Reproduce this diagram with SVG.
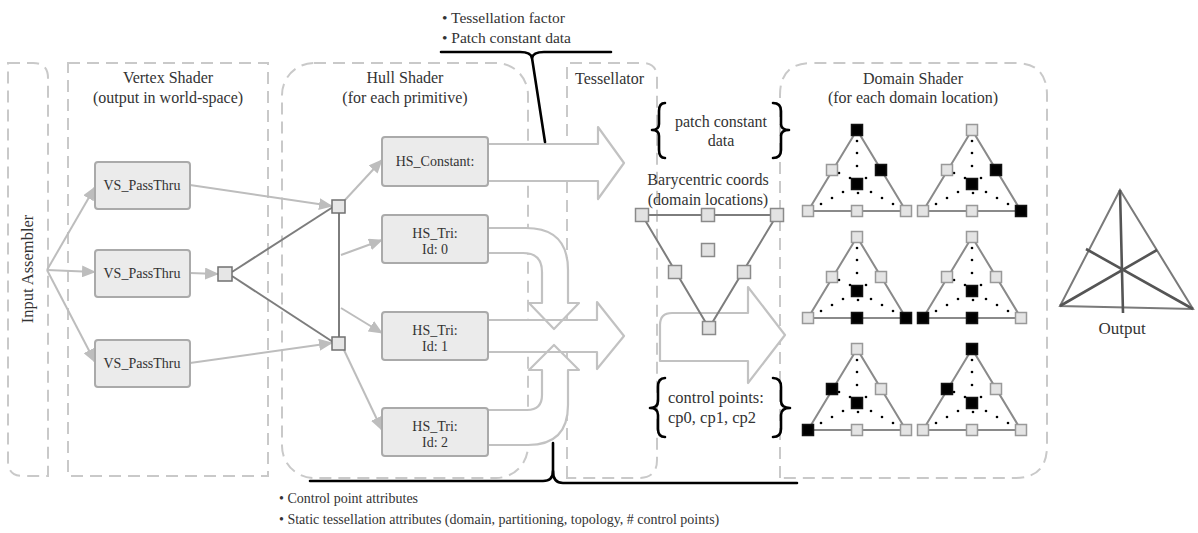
<svg xmlns="http://www.w3.org/2000/svg" width="1198" height="533" viewBox="0 0 1198 533">
<defs>
<style>
text{font-family:"Liberation Serif","DejaVu Serif",serif;fill:#333}
.t16{font-size:16px;text-anchor:middle}
.t14{font-size:14px;text-anchor:middle}
.tl{font-size:14px}
.panel{fill:none;stroke:#c9c9c9;stroke-width:2;stroke-dasharray:12 7}
.box{fill:#ebebeb;stroke:#aaa;stroke-width:2}
.lc{fill:none;stroke:#bdbdbd;stroke-width:2}
.dc{fill:none;stroke:#7d7d7d;stroke-width:2}
.sq{fill:#e6e6e6;stroke:#707070;stroke-width:1.5}
.bf{fill:#fff;stroke:none}
.bs{fill:none;stroke:#c2c2c2;stroke-width:2.2;stroke-linejoin:round}
.brace{fill:none;stroke:#000;stroke-width:2.6;stroke-linecap:round;stroke-linejoin:round}
.tri{fill:none;stroke:#8a8a8a;stroke-width:2}
.g{fill:#e4e4e4;stroke:#999;stroke-width:1.5}
.k{fill:#000;stroke:#111;stroke-width:1.5}
.bsq{fill:#e2e2e2;stroke:#8a8a8a;stroke-width:1.5}
</style>
<marker id="ah" viewBox="0 0 14 12" markerWidth="14" markerHeight="12" refX="13" refY="6" orient="auto" markerUnits="userSpaceOnUse"><path d="M0,0 L14,6 L0,12 Z" fill="#bdbdbd"/></marker>
<rect id="sq" x="-5.5" y="-5.5" width="11" height="11"/>
<rect id="bq" x="-6.5" y="-6.5" width="13" height="13"/>
<polygon id="triout" points="0,0 -49,81 49,81" class="tri"/>
<g id="tridots" fill="#000">
<circle cx="0" cy="11" r="1.3"/><circle cx="0" cy="23" r="1.3"/><circle cx="0" cy="36" r="1.3"/>
<circle cx="-36" cy="74" r="1.3"/><circle cx="-25" cy="68" r="1.3"/><circle cx="-14" cy="62" r="1.3"/>
<circle cx="36" cy="74" r="1.3"/><circle cx="25" cy="68" r="1.3"/><circle cx="14" cy="62" r="1.3"/>
<circle cx="-7" cy="48" r="1.3"/><circle cx="9" cy="48" r="1.3"/><circle cx="1" cy="63" r="1.3"/>
<circle cx="-18" cy="43" r="1.3"/>
</g>
<path id="a1" d="M488,144 H598 V127 L624,163 L598,199 V181 H488"/>
<path id="a2" d="M488,228 H526 Q568,228 568,270 V303 H579 L554,329 L529,303 H542 V272 Q542,253 523,253 H488"/>
<path id="a3" d="M488,320 H597 V302 L624,336 L597,369 V352 H488"/>
<path id="a4" d="M488,445 H528 Q568,445 568,405 V370 H579 L554,345 L529,370 H542 V395 Q542,410 527,410 H488"/>
<path id="a5" d="M672,313 H748 V287 L785,335 L748,383 V361 H660 V325 Q660,313 672,313 Z"/>
</defs>
<rect width="1198" height="533" fill="#fff"/>

<g id="panels">
<path class="panel" d="M8,63 H33 Q48,63 48,78 V476 H23 Q8,476 8,461 Z"/>
<rect class="panel" x="68" y="63" width="200" height="413"/>
<rect class="panel" x="282" y="63" width="246" height="415" rx="32"/>
<path class="panel" d="M567,478 V63 H642 Q657,63 657,78 V460 Q657,478 639,478 Z"/>
<path class="panel" d="M780,478 V95 Q780,63 812,63 H1015 Q1047,63 1047,95 V446 Q1047,478 1015,478 Z"/>
<text x="28" y="269" font-size="16.5" text-anchor="middle" transform="rotate(-90 28 269)" dy="5">Input Assembler</text>
<text class="t16" x="168" y="83">Vertex Shader</text>
<text class="t16" x="168" y="103">(output in world-space)</text>
<text class="t16" x="405" y="83">Hull Shader</text>
<text class="t16" x="405" y="103">(for each primitive)</text>
<text x="575" y="84" font-size="16">Tessellator</text>
<text class="t16" x="913" y="84">Domain Shader</text>
<text class="t16" x="913" y="103">(for each domain location)</text>
</g>

<g id="connectors">
<path class="lc" d="M47,270 L95,187" marker-end="url(#ah)"/>
<path class="lc" d="M47,270 L95,272" marker-end="url(#ah)"/>
<path class="lc" d="M47,270 L95,362" marker-end="url(#ah)"/>
<path class="lc" d="M190,273 L218,274" marker-end="url(#ah)"/>
<path class="lc" d="M190,185 L332,206" marker-end="url(#ah)"/>
<path class="lc" d="M190,363 L332,343" marker-end="url(#ah)"/>
<path class="dc" d="M232,272 L333,207"/>
<path class="dc" d="M232,276 L333,342"/>
<path class="dc" d="M339,213 V337"/>
<path class="lc" d="M345,200 L382,160" marker-end="url(#ah)"/>
<path class="lc" d="M341,255 L382,240" marker-end="url(#ah)"/>
<path class="lc" d="M341,308 L382,333" marker-end="url(#ah)"/>
<path class="lc" d="M344,350 L382,430" marker-end="url(#ah)"/>
<use href="#a1" class="bf"/><use href="#a2" class="bf"/><use href="#a4" class="bf"/><use href="#a3" class="bf"/><use href="#a5" class="bf"/>
<use href="#a1" class="bs"/><use href="#a2" class="bs"/><use href="#a4" class="bs"/><use href="#a3" class="bs"/><use href="#a5" class="bs"/>
</g>

<g id="vs1"><rect class="box" x="95" y="162" width="95" height="47" rx="3"/><text class="t14" x="142" y="190">VS_PassThru</text></g>
<g id="vs2"><rect class="box" x="95" y="250" width="95" height="47" rx="3"/><text class="t14" x="142" y="278">VS_PassThru</text></g>
<g id="vs3"><rect class="box" x="95" y="340" width="95" height="47" rx="3"/><text class="t14" x="142" y="368">VS_PassThru</text></g>
<g id="vs-join"><rect class="sq" x="218" y="267" width="14" height="14"/></g>
<g id="hs-join1"><rect class="sq" x="332" y="200" width="13" height="13"/></g>
<g id="hs-join2"><rect class="sq" x="332" y="337" width="13" height="13"/></g>

<g id="hs-constant"><rect class="box" x="382" y="137" width="106" height="49" rx="3"/><text class="t14" x="435" y="166">HS_Constant:</text></g>
<g id="hs-tri0"><rect class="box" x="382" y="215" width="106" height="48" rx="3"/><text class="t14" x="435" y="238">HS_Tri:</text><text class="t14" x="435" y="254">Id: 0</text></g>
<g id="hs-tri1"><rect class="box" x="382" y="312" width="106" height="48" rx="3"/><text class="t14" x="435" y="335">HS_Tri:</text><text class="t14" x="435" y="351">Id: 1</text></g>
<g id="hs-tri2"><rect class="box" x="382" y="408" width="106" height="48" rx="3"/><text class="t14" x="435" y="431">HS_Tri:</text><text class="t14" x="435" y="447">Id: 2</text></g>

<g id="top-note">
<text x="442" y="23" font-size="15.5">• Tessellation factor</text>
<text x="442" y="43" font-size="15.5">• Patch constant data</text>
<path class="brace" d="M441,52 H520 Q531,52 532,58 L545,142"/>
<path class="brace" d="M532,58 Q533,52 544,52 H611"/>
</g>

<g id="bottom-note">
<path class="brace" d="M310,481 H543 Q553,481 553,471 V443"/>
<path class="brace" d="M553,471 Q553,483 563,483 H797"/>
<text class="tl" x="279" y="503">• Control point attributes</text>
<text class="tl" x="279" y="524">• Static tessellation attributes (domain, partitioning, topology, # control points)</text>
</g>

<g id="tessellator">
<path class="brace" d="M665,103 Q659,103 659,111 V124 Q659,130 652,130 Q659,130 659,136 V150 Q659,158 665,158"/>
<path class="brace" d="M773,103 Q781,103 781,111 V124 Q781,130 789,130 Q781,130 781,136 V150 Q781,158 773,158"/>
<text class="t16" x="721" y="127">patch constant</text>
<text class="t16" x="721" y="146">data</text>
<text class="t16" x="708" y="185">Barycentric coords</text>
<text class="t16" x="708" y="205">(domain locations)</text>
<path class="dc" d="M642,215 H777 L709,328 Z" stroke-width="1.6"/>
<use href="#bq" class="bsq" x="642" y="215"/><use href="#bq" class="bsq" x="708" y="215"/><use href="#bq" class="bsq" x="777" y="215"/>
<use href="#bq" class="bsq" x="675" y="272"/><use href="#bq" class="bsq" x="744" y="272"/>
<use href="#bq" class="bsq" x="709" y="328"/><use href="#bq" class="bsq" x="708" y="250"/>
<path class="brace" d="M665,378 Q658,378 658,387 V401 Q658,408 650,408 Q658,408 658,415 V429 Q658,437 665,437"/>
<path class="brace" d="M773,378 Q781,378 781,387 V401 Q781,408 790,408 Q781,408 781,415 V429 Q781,437 773,437"/>
<text x="668" y="403" font-size="16.5">control points:</text>
<text x="668" y="423" font-size="16.5">cp0, cp1, cp2</text>
</g>

<g id="ds1" transform="translate(857,130)">
<use href="#triout"/><use href="#tridots"/>
<use href="#sq" class="k" x="0" y="0"/><use href="#sq" class="g" x="-25" y="40"/><use href="#sq" class="k" x="24" y="40"/><use href="#sq" class="k" x="0" y="54"/><use href="#sq" class="g" x="-49" y="81"/><use href="#sq" class="g" x="0" y="81"/><use href="#sq" class="g" x="49" y="81"/>
</g>
<g id="ds2" transform="translate(972,130)">
<use href="#triout"/><use href="#tridots"/>
<use href="#sq" class="g" x="0" y="0"/><use href="#sq" class="g" x="-25" y="40"/><use href="#sq" class="k" x="24" y="40"/><use href="#sq" class="k" x="0" y="54"/><use href="#sq" class="g" x="-49" y="81"/><use href="#sq" class="g" x="0" y="81"/><use href="#sq" class="k" x="49" y="81"/>
</g>
<g id="ds3" transform="translate(857,237)">
<use href="#triout"/><use href="#tridots"/>
<use href="#sq" class="g" x="0" y="0"/><use href="#sq" class="g" x="-25" y="40"/><use href="#sq" class="g" x="24" y="40"/><use href="#sq" class="k" x="0" y="54"/><use href="#sq" class="g" x="-49" y="81"/><use href="#sq" class="k" x="0" y="81"/><use href="#sq" class="k" x="49" y="81"/>
</g>
<g id="ds4" transform="translate(972,237)">
<use href="#triout"/><use href="#tridots"/>
<use href="#sq" class="g" x="0" y="0"/><use href="#sq" class="g" x="-25" y="40"/><use href="#sq" class="g" x="24" y="40"/><use href="#sq" class="k" x="0" y="54"/><use href="#sq" class="k" x="-49" y="81"/><use href="#sq" class="k" x="0" y="81"/><use href="#sq" class="g" x="49" y="81"/>
</g>
<g id="ds5" transform="translate(857,349)">
<use href="#triout"/><use href="#tridots"/>
<use href="#sq" class="g" x="0" y="0"/><use href="#sq" class="k" x="-25" y="40"/><use href="#sq" class="g" x="24" y="40"/><use href="#sq" class="k" x="0" y="54"/><use href="#sq" class="k" x="-49" y="81"/><use href="#sq" class="g" x="0" y="81"/><use href="#sq" class="g" x="49" y="81"/>
</g>
<g id="ds6" transform="translate(972,349)">
<use href="#triout"/><use href="#tridots"/>
<use href="#sq" class="k" x="0" y="0"/><use href="#sq" class="k" x="-25" y="40"/><use href="#sq" class="g" x="24" y="40"/><use href="#sq" class="k" x="0" y="54"/><use href="#sq" class="g" x="-49" y="81"/><use href="#sq" class="g" x="0" y="81"/><use href="#sq" class="g" x="49" y="81"/>
</g>

<g id="output">
<polygon points="1120,190 1060,306 1193,309" fill="none" stroke="#7a7a7a" stroke-width="2"/>
<path d="M1120,190 L1123,313 M1060,306 L1157,250 M1193,309 L1086,249" fill="none" stroke="#555" stroke-width="2.6"/>
<text x="1122" y="334" font-size="17" text-anchor="middle">Output</text>
</g>
</svg>
